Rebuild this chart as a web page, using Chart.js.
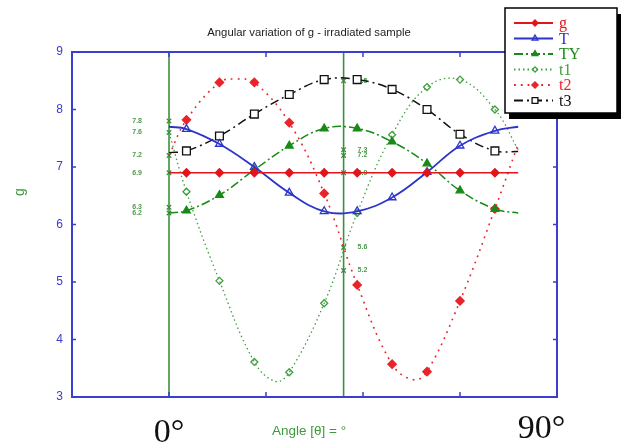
<!DOCTYPE html>
<html>
<head>
<meta charset="utf-8">
<script src="https://cdn.jsdelivr.net/npm/chart.js@4.4.0/dist/chart.umd.min.js"></script>
<style>
  html, body { margin: 0; padding: 0; background: #fff; }
  #wrap { width: 622px; height: 445px; }
</style>
</head>
<body>
<div id="wrap"><canvas id="gChart" width="622" height="445"></canvas></div>
<script>
// rotation angles (deg) of the measured points, plus the two ends of each curve
const angles = [9, 26, 44, 62, 80, 97, 115, 133, 150, 168];
const endAngles = [0, 180];

const gVals  = [6.9, 6.9, 6.9, 6.9, 6.9, 6.9, 6.9, 6.9, 6.9, 6.9];
const gEnds  = [6.9, 6.9];
const TVals  = [7.66, 7.40, 7.00, 6.55, 6.23, 6.23, 6.47, 6.91, 7.37, 7.63];
const TEnds  = [7.7, 7.7];
const TYVals = [6.24, 6.51, 6.95, 7.37, 7.67, 7.67, 7.44, 7.06, 6.59, 6.27];
const TYEnds = [6.2, 6.2];
const t1Vals = [6.57, 5.02, 3.61, 3.43, 4.63, 6.20, 7.56, 8.39, 8.52, 8.00];
const t1Ends = [7.6, 7.3];
const t1TurnAngles = [55];
const t1TurnVals = [3.27];
const t2Vals = [7.82, 8.47, 8.47, 7.77, 6.54, 4.95, 3.57, 3.44, 4.67, 6.27];
const t2Ends = [7.2, 7.4];
const t2TurnAngles = [35, 126];
const t2TurnVals = [8.53, 3.30];
const t3Vals = [7.28, 7.54, 7.92, 8.26, 8.52, 8.52, 8.35, 8.00, 7.57, 7.28];
const t3Ends = [7.25, 7.27];

// vertical guides and the g values marked on them
const guideAngles = [0, 90];
const leftMarkVals = [7.8, 7.6, 7.2, 6.9, 6.3, 6.2];
const midMarkVals = [8.5, 7.3, 7.2, 6.9, 5.6, 5.2];

const degreeLabels = ['0°', '90°'];
const degreeAt = [0, 192];

function curve(ys, ends, turnX = [], turnY = []) {
  const pts = angles.map((x, i) => ({ x, y: ys[i] }));
  endAngles.forEach((x, i) => pts.push({ x, y: ends[i] }));
  turnX.forEach((x, i) => pts.push({ x, y: turnY[i] }));
  return pts.sort((a, b) => a.x - b.x);
}

function series(label, pts, color, dash, width, shape, r, fill) {
  return {
    label, data: pts,
    borderColor: color, borderWidth: width, borderDash: dash,
    tension: 0.4,
    pointStyle: shape,
    // markers only on the measured angles
    pointRadius: c => (c.raw && !angles.includes(c.raw.x)) ? 0 : r,
    markR: r,
    pointBorderColor: color,
    pointBackgroundColor: fill,
    pointBorderWidth: 1.3
  };
}

function marks(vals, at) {
  return {
    label: 'x', data: vals.map(v => ({ x: at, y: v })),
    showLine: false, pointStyle: 'crossRot', pointRadius: 3.2,
    pointBorderColor: '#3a8a3a', pointBorderWidth: 1.1
  };
}

const RED = '#e3141b', BLUE = '#2b35c9', GREEN = '#178a17', LGREEN = '#3f9f3f', BLACK = '#111';

const datasets = [
  series('g',  curve(gVals, gEnds),   RED,    [],            1.5, 'rectRot', 4,   RED),
  series('T',  curve(TVals, TEnds),   BLUE,   [],            1.8, 'triangle', 4.5, 'rgba(255,255,255,0)'),
  series('TY', curve(TYVals, TYEnds), GREEN,  [9, 3, 2, 3],  1.5, 'triangle', 4.5, GREEN),
  series('t1', curve(t1Vals, t1Ends, t1TurnAngles, t1TurnVals), LGREEN, [1.5, 3], 1.3, 'rectRot', 3.5, 'rgba(255,255,255,0)'),
  series('t2', curve(t2Vals, t2Ends, t2TurnAngles, t2TurnVals), '#e8242a', [1.8, 5], 1.6, 'rectRot', 4.2, '#e8242a'),
  series('t3', curve(t3Vals, t3Ends), BLACK,  [9, 4, 2, 4],  1.5, 'rect', 5.5, '#fff'),
  marks(leftMarkVals, guideAngles[0]),
  marks(midMarkVals, guideAngles[1])
];

const decor = {
  id: 'decor',
  beforeDatasetsDraw(chart) {
    const { ctx, chartArea: a, scales: { x, y } } = chart;
    ctx.save();
    ctx.strokeStyle = '#3c8f3c';
    ctx.lineWidth = 1.6;
    guideAngles.forEach(v => {
      const px = x.getPixelForValue(v);
      ctx.beginPath(); ctx.moveTo(px, a.top); ctx.lineTo(px, a.bottom); ctx.stroke();
    });
    ctx.fillStyle = '#4f9a4f';
    ctx.font = 'bold 7px Arial';
    ctx.textBaseline = 'middle';
    ctx.textAlign = 'right';
    leftMarkVals.forEach(v => ctx.fillText(v.toFixed(1), x.getPixelForValue(guideAngles[0]) - 27, y.getPixelForValue(v)));
    ctx.textAlign = 'left';
    midMarkVals.forEach(v => ctx.fillText(v.toFixed(1), x.getPixelForValue(guideAngles[1]) + 14, y.getPixelForValue(v)));
    ctx.restore();
  },
  afterDatasetsDraw(chart) {
    const { ctx, chartArea: a, scales: { x, y } } = chart;
    ctx.save();
    ctx.strokeStyle = '#3a3fd0';
    ctx.lineWidth = 2;
    ctx.strokeRect(a.left, a.top, a.right - a.left, a.bottom - a.top);
    ctx.lineWidth = 1.5;
    ctx.beginPath();
    y.ticks.forEach(t => {
      const py = y.getPixelForValue(t.value);
      ctx.moveTo(a.left, py); ctx.lineTo(a.left + 4, py);
      ctx.moveTo(a.right, py); ctx.lineTo(a.right - 4, py);
    });
    x.ticks.forEach(t => {
      if (t.value <= x.min || t.value >= x.max) return;
      const px = x.getPixelForValue(t.value);
      ctx.moveTo(px, a.top); ctx.lineTo(px, a.top + 5);
      ctx.moveTo(px, a.bottom); ctx.lineTo(px, a.bottom - 5);
    });
    ctx.stroke();
    ctx.restore();
  },
  afterDraw(chart) {
    const { ctx, scales: { x } } = chart;
    ctx.save();
    ctx.fillStyle = '#222';
    ctx.font = '11.3px Arial';
    ctx.textAlign = 'center';
    ctx.textBaseline = 'middle';
    ctx.fillText('Angular variation of g - irradiated sample', 309, 33);

    ctx.fillStyle = '#3f9a3f';
    ctx.font = '13.5px Arial';
    ctx.fillText('Angle [θ] = °', 309, 431);
    ctx.save();
    ctx.translate(20, 192);
    ctx.rotate(-Math.PI / 2);
    ctx.font = '14px Arial';
    ctx.fillText('g', 0, 0);
    ctx.restore();

    ctx.fillStyle = '#111';
    ctx.font = '34px "Liberation Serif"';
    ctx.textBaseline = 'alphabetic';
    degreeLabels.forEach((s, i) => ctx.fillText(s, x.getPixelForValue(degreeAt[i]), i === 0 ? 442 : 438));

    // legend box with drop shadow
    const lx = 505, ly = 8, lw = 112, lh = 105;
    ctx.fillStyle = '#000';
    ctx.fillRect(lx + 4, ly + 6, lw, lh);
    ctx.fillStyle = '#fff';
    ctx.fillRect(lx, ly, lw, lh);
    ctx.strokeStyle = '#000';
    ctx.lineWidth = 1.5;
    ctx.strokeRect(lx, ly, lw, lh);
    ctx.font = '16px "Liberation Serif"';
    ctx.textAlign = 'left';
    ctx.textBaseline = 'middle';
    chart.data.datasets.slice(0, 6).forEach((ds, i) => {
      const cy = ly + 15 + i * 15.5;
      ctx.strokeStyle = ds.borderColor;
      ctx.lineWidth = 1.8;
      ctx.setLineDash(ds.borderDash);
      ctx.beginPath(); ctx.moveTo(lx + 9, cy); ctx.lineTo(lx + 48, cy); ctx.stroke();
      ctx.setLineDash([]);
      ctx.fillStyle = ds.pointBackgroundColor;
      ctx.strokeStyle = ds.pointBorderColor;
      ctx.lineWidth = ds.pointBorderWidth;
      Chart.helpers.drawPoint(ctx, { pointStyle: ds.pointStyle, radius: ds.markR * 0.75, rotation: 0, borderWidth: ds.pointBorderWidth }, lx + 30, cy);
      ctx.fillStyle = ds.borderColor;
      ctx.fillText(ds.label, lx + 54, cy + 1);
    });
    ctx.restore();
  }
};

new Chart(document.getElementById('gChart'), {
  type: 'line',
  data: { datasets },
  options: {
    responsive: false,
    animation: false,
    events: [],
    layout: { padding: { top: 52, right: 65, bottom: 48, left: 0 } },
    plugins: { legend: { display: false }, tooltip: { enabled: false } },
    scales: {
      x: {
        type: 'linear', min: -50, max: 200,
        ticks: { stepSize: 50, display: false },
        grid: { display: false, drawTicks: false },
        border: { display: false },
        afterFit: s => { s.height = 0; }
      },
      y: {
        min: 3, max: 9,
        ticks: { stepSize: 1, padding: 9, color: '#3b3bcc', font: { family: 'Arial', size: 12 } },
        grid: { display: false, drawTicks: false },
        border: { display: false },
        afterFit: s => { s.width = 72; }
      }
    }
  },
  plugins: [decor]
});
</script>
</body>
</html>
